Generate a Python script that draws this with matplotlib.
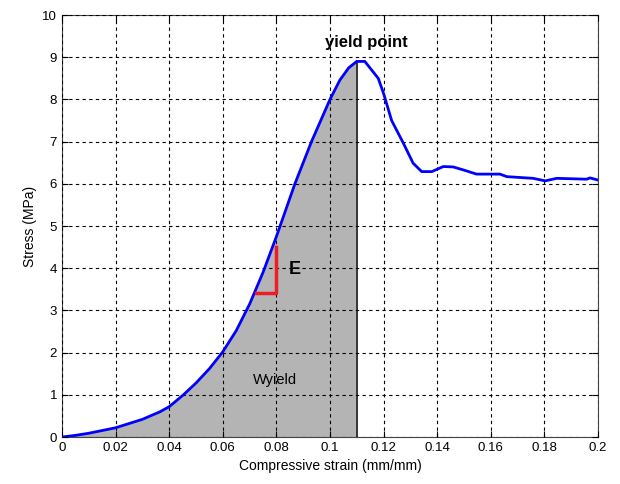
import matplotlib.pyplot as plt
import numpy as np

plt.rcParams['font.family'] = ['Liberation Sans', 'DejaVu Sans']

strain = [0, 0.005, 0.01, 0.02, 0.03, 0.0366, 0.04, 0.0453, 0.05, 0.055, 0.06, 0.065,
          0.07, 0.075, 0.08, 0.0869, 0.0931, 0.1, 0.1037, 0.107, 0.11, 0.113, 0.118,
          0.12, 0.123, 0.1274, 0.131, 0.1342, 0.138, 0.1423, 0.146, 0.1497, 0.1547,
          0.1634, 0.166, 0.1758, 0.1803, 0.1846, 0.1958, 0.197, 0.2]
stress = [0, 0.04, 0.09, 0.22, 0.42, 0.6, 0.72, 1.0, 1.28, 1.62, 2.02, 2.52,
          3.15, 3.9, 4.75, 6.0, 7.0, 8.0, 8.46, 8.75, 8.9, 8.9, 8.5,
          8.14, 7.5, 6.96, 6.49, 6.29, 6.29, 6.41, 6.4, 6.33, 6.23,
          6.23, 6.17, 6.13, 6.07, 6.13, 6.11, 6.14, 6.09]
yield_strain = 0.11
yield_stress = 8.9
# modulus bracket
e_x = [0.0724, 0.08, 0.08]
e_y = [3.42, 3.42, 4.51]

fig = plt.figure(figsize=(6.2, 4.84), dpi=100)
ax = fig.add_axes([0.1, 0.097, 0.8645, 0.872])

x = np.array(strain)
y = np.array(stress)
m = x <= yield_strain
ax.fill_between(x[m], 0, y[m], color='#b4b4b4', zorder=1)
ax.plot([yield_strain, yield_strain], [0, yield_stress], color='#222222', lw=1.2, zorder=2)
ax.plot(strain, stress, color='#0000ff', lw=2, zorder=3)
ax.plot(e_x, e_y, color='#ee1c24', lw=2.5, zorder=3)

ax.text(0.087, 3.96, 'E', fontsize=13, fontweight='bold', va='center', ha='center')
ax.text(0.1135, 9.35, 'yield point', fontsize=12, fontweight='bold', va='center', ha='center')
ax.text(0.0795, 1.35, 'Wyield', fontsize=10.5, va='center', ha='center')

ax.set_xlim(0, 0.2)
ax.set_ylim(0, 10)
ax.set_xticks([0, 0.02, 0.04, 0.06, 0.08, 0.1, 0.12, 0.14, 0.16, 0.18, 0.2])
ax.set_xticklabels(['0', '0.02', '0.04', '0.06', '0.08', '0.1', '0.12', '0.14', '0.16', '0.18', '0.2'])
ax.set_yticks(range(0, 11))
ax.tick_params(direction='in', labelsize=9.5, length=4, top=True, right=True)
ax.grid(True, color='black', linestyle=(0, (3, 3)), lw=0.8)
ax.set_axisbelow(False)
ax.set_xlabel('Compressive strain (mm/mm)', fontsize=10)
ax.set_ylabel('Stress (MPa)', fontsize=10)
for s in ax.spines.values():
    s.set_color('#444444')

plt.savefig('out.png', dpi=100)
